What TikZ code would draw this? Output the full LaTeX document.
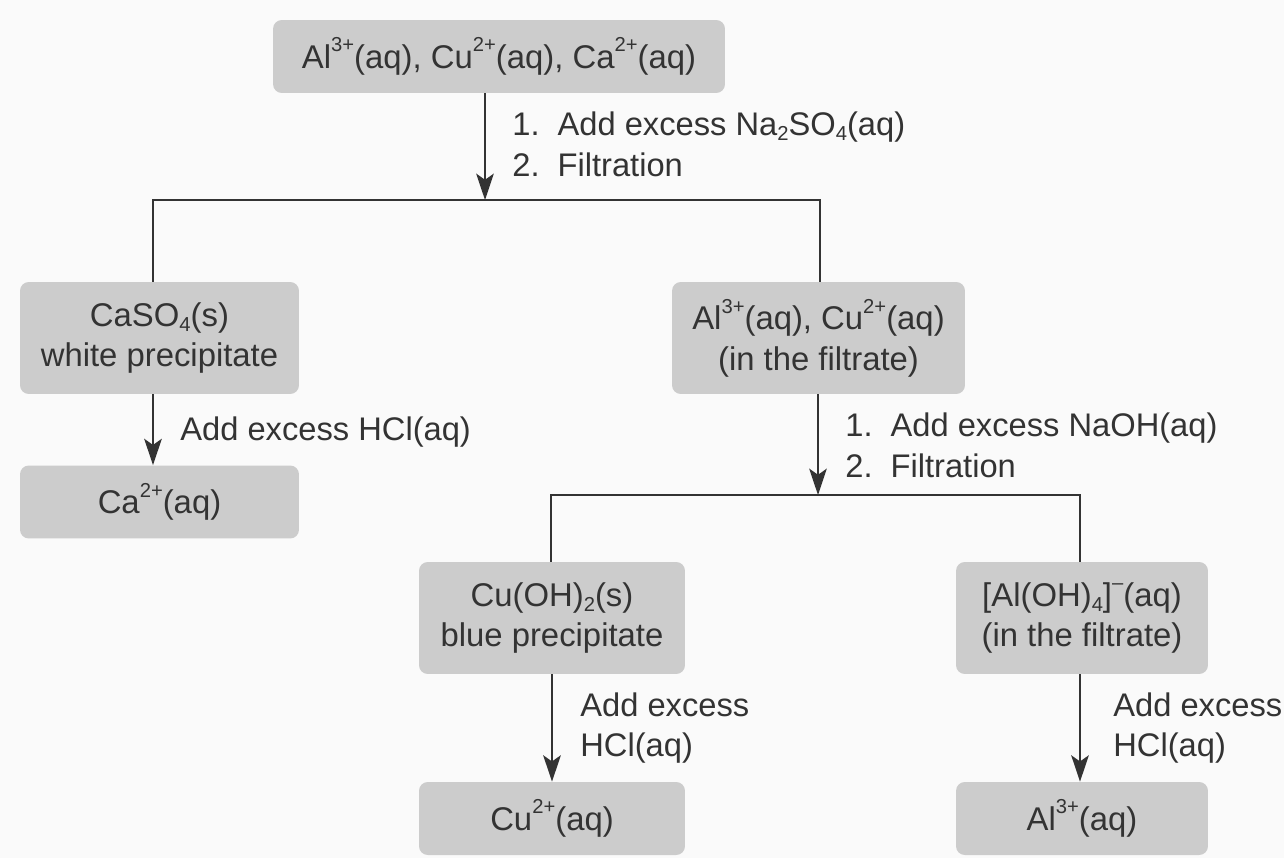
\documentclass[tikz,border=0pt]{standalone}
\usepackage{fontspec}
\setmainfont{Liberation Sans}
\usepackage{xcolor}
\usepackage{tikz}
\usetikzlibrary{arrows.meta,positioning,calc}
\definecolor{boxgray}{HTML}{CCCCCC}
\definecolor{inkgray}{HTML}{333333}
\definecolor{paper}{HTML}{FAFAFA}
\newcommand{\ionup}[1]{\raisebox{0.5em}{\fontsize{11.5}{12}\selectfont #1}}
\newcommand{\iondown}[1]{\raisebox{-0.15em}{\fontsize{11.5}{12}\selectfont #1}}

\begin{document}
\begin{tikzpicture}[
    x=0.02cm, y=-0.02cm,
    box/.style={rectangle, fill=boxgray, text=inkgray, align=center, rounded corners=5pt, inner sep=0pt, font=\fontsize{18.7}{23}\selectfont},
    lbl/.style={anchor=west, inner sep=0pt, text=inkgray, align=left, font=\fontsize{18.6}{23}\selectfont},
    line/.style={draw=inkgray, line width=1.1pt},
    arrow/.style={line, -{Stealth[length=15pt,width=10pt,inset=3.5pt]}}
]
\fill[paper] (0,0) rectangle (1284,858);
\useasboundingbox (0,0) rectangle (1284,858);

% boxes
\node [box, minimum width=9.04cm, minimum height=1.46cm] (mix) at (499,56.5) {Al\ionup{3+}(aq), Cu\ionup{2+}(aq), Ca\ionup{2+}(aq)};
\node [box, minimum width=5.58cm, minimum height=2.24cm] (caso) at (159.5,338) {CaSO\iondown{4}(s)\\white precipitate};
\node [box, minimum width=5.86cm, minimum height=2.24cm] (filt) at (818.5,338) {Al\ionup{3+}(aq), Cu\ionup{2+}(aq)\\(in the filtrate)};
\node [box, minimum width=5.58cm, minimum height=1.46cm] (ca) at (159.5,502) {Ca\ionup{2+}(aq)};
\node [box, minimum width=5.32cm, minimum height=2.24cm] (cuoh) at (552,618) {Cu(OH)\iondown{2}(s)\\blue precipitate};
\node [box, minimum width=5.04cm, minimum height=2.24cm] (aloh) at (1082,618) {[Al(OH)\iondown{4}]\ionup{–}(aq)\\(in the filtrate)};
\node [box, minimum width=5.32cm, minimum height=1.46cm] (cu) at (552,818.5) {Cu\ionup{2+}(aq)};
\node [box, minimum width=5.04cm, minimum height=1.46cm] (al) at (1082,818.5) {Al\ionup{3+}(aq)};

% junctions
\coordinate (j1) at (485,200);
\coordinate (b1l) at (153,200);
\coordinate (b1r) at (820,200);
\coordinate (j2) at (818,495);
\coordinate (b2l) at (551,495);
\coordinate (b2r) at (1080,495);

% connectors
\draw [arrow] (mix.south -| j1) -- (j1);
\draw [line] (b1l |- caso.north) |- (b1r) -- (b1r |- filt.north);
\draw [arrow] (caso.south -| b1l) -- (ca.north -| b1l);
\draw [arrow] (filt.south -| j2) -- (j2);
\draw [line] (b2l |- cuoh.north) |- (b2r) -- (b2r |- aloh.north);
\draw [arrow] (cuoh.south) -- (cu.north);
\draw [arrow] (aloh.south -| b2r) -- (al.north -| b2r);

% labels
\node [lbl] (step1) at (512,148) {\begin{tabular}{@{}l@{\hspace{0.55em}}l@{}}1. & Add excess Na\iondown{2}SO\iondown{4}(aq)\\2. & Filtration\end{tabular}};
\node [lbl] (step2) at (180,432) {Add excess HCl(aq)};
\node [lbl] (step3) at (845,449) {\begin{tabular}{@{}l@{\hspace{0.55em}}l@{}}1. & Add excess NaOH(aq)\\2. & Filtration\end{tabular}};
\node [lbl] (step4) at (580,728) {Add excess\\HCl(aq)};
\node [lbl] (step5) at (1113,728) {Add excess\\HCl(aq)};

\end{tikzpicture}
\end{document}
